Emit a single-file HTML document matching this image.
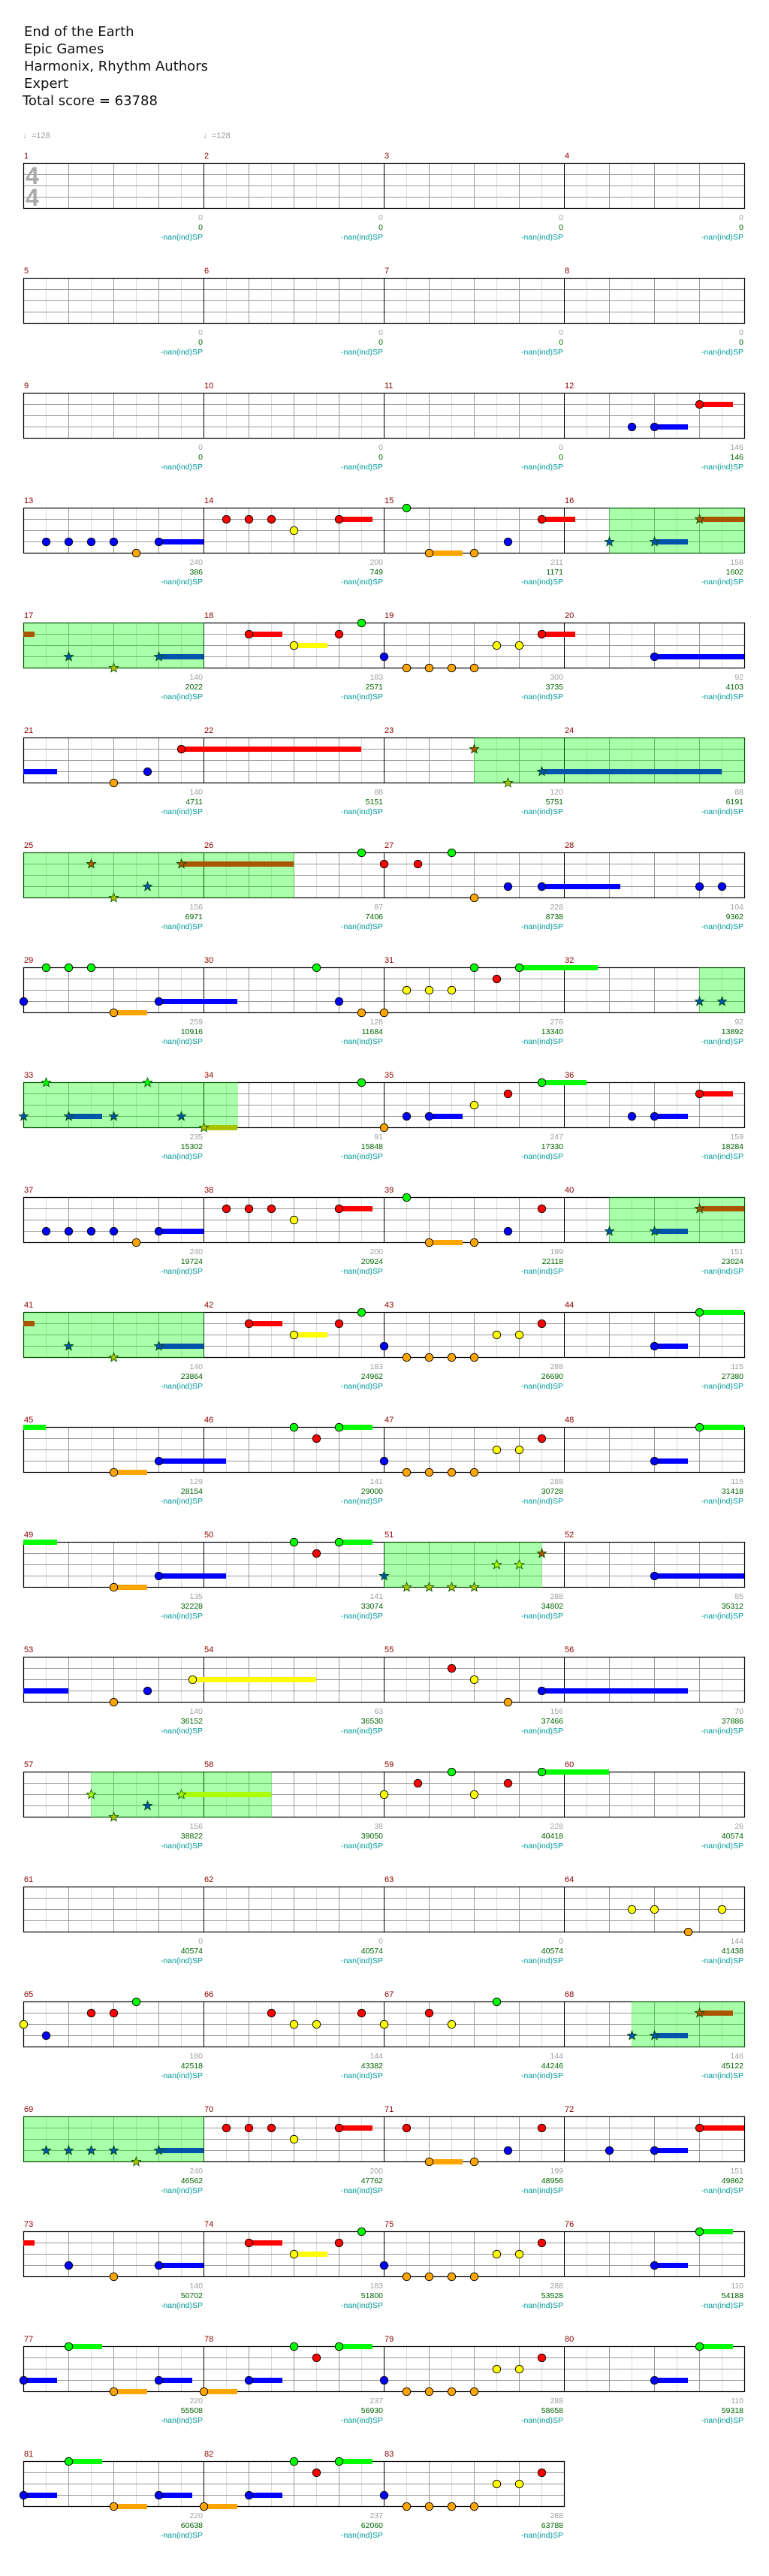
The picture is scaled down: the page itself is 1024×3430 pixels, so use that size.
<!DOCTYPE html>
<html><head><meta charset="utf-8"><title>End of the Earth</title>
<style>
html,body{margin:0;padding:0;background:#fff;}
#wrap{position:relative;width:1024px;height:3430px;overflow:hidden;}
svg text{font-family:"Liberation Sans","DejaVu Sans",sans-serif;}
</style></head>
<body>
<div id="wrap">
<svg id="chart" width="1024" height="3430" viewBox="0 0 1024 3430" xmlns="http://www.w3.org/2000/svg">
<g font-family="DejaVu Sans, sans-serif" font-size="18" fill="#111">
<text x="32" y="48" style="font-family:'DejaVu Sans',sans-serif">End of the Earth</text>
<text x="32" y="71" style="font-family:'DejaVu Sans',sans-serif">Epic Games</text>
<text x="32" y="94" style="font-family:'DejaVu Sans',sans-serif">Harmonix, Rhythm Authors</text>
<text x="32" y="117" style="font-family:'DejaVu Sans',sans-serif">Expert</text>
<text x="30" y="140" style="font-family:'DejaVu Sans',sans-serif">Total score = 63788</text>
</g>
<g font-size="11" fill="#999">
<text x="31" y="184">♩=128</text>
<text x="271" y="184">♩=128</text>
</g>
<g id="staves"></g>
</svg>
</div>
<script>
const measureCount = 83;
const laneColors = ["#00ff00","#ff0000","#ffff00","#0000ff","#ffa500"];
const spColors = ["#00ff00","#aa5500","#aaff00","#0055aa","#aac300"];
// [globalBeat, lane(0=G,1=R,2=Y,3=B,4=O), sustainBeats]
const notes = [
[45.5,3,0],[46,3,.75],[47,1,.75],
[48.5,3,0],[49,3,0],[49.5,3,0],[50,3,0],[50.5,4,0],[51,3,1],
[52.5,1,0],[53,1,0],[53.5,1,0],[54,2,0],[55,1,.75],
[56.5,0,0],[57,4,.75],[58,4,0],[58.75,3,0],[59.5,1,.75],
[61,3,0],[62,3,.75],[63,1,1.25],
[65,3,0],[66,4,0],[67,3,1],
[69,1,.75],[70,2,.75],[71,1,0],[71.5,0,0],
[72,3,0],[72.5,4,0],[73,4,0],[73.5,4,0],[74,4,0],[74.5,2,0],[75,2,0],[75.5,1,.75],
[78,3,2.75],
[82,4,0],[82.75,3,0],[83.5,1,4],
[90,1,0],[90.75,4,0],[91.5,3,4],
[97.5,1,0],[98,4,0],[98.75,3,0],[99.5,1,2.5],
[103.5,0,0],
[104,1,0],[104.75,1,0],[105.5,0,0],[106,4,0],[106.75,3,0],[107.5,3,1.75],
[111,3,0],[111.5,3,0],
[112,3,0],[112.5,0,0],[113,0,0],[113.5,0,0],[114,4,.75],[115,3,1.75],
[118.5,0,0],[119,3,0],[119.5,4,0],
[120,4,0],[120.5,2,0],[121,2,0],[121.5,2,0],[122,0,0],[122.5,1,0],[123,0,1.75],
[127,3,0],[127.5,3,0],
[128,3,0],[128.5,0,0],[129,3,.75],[130,3,0],[130.75,0,0],[131.5,3,0],
[132,4,.75],[135.5,0,0],
[136,4,0],[136.5,3,0],[137,3,.75],[138,2,0],[138.75,1,0],[139.5,0,1],
[141.5,3,0],[142,3,.75],[143,1,.75],
[144.5,3,0],[145,3,0],[145.5,3,0],[146,3,0],[146.5,4,0],[147,3,1],
[148.5,1,0],[149,1,0],[149.5,1,0],[150,2,0],[151,1,.75],
[152.5,0,0],[153,4,.75],[154,4,0],[154.75,3,0],[155.5,1,0],
[157,3,0],[158,3,.75],[159,1,1.25],
[161,3,0],[162,4,0],[163,3,1],
[165,1,.75],[166,2,.75],[167,1,0],[167.5,0,0],
[168,3,0],[168.5,4,0],[169,4,0],[169.5,4,0],[170,4,0],[170.5,2,0],[171,2,0],[171.5,1,0],
[174,3,.75],[175,0,1.5],
[178,4,.75],[179,3,1.5],
[182,0,0],[182.5,1,0],[183,0,.75],
[184,3,0],[184.5,4,0],[185,4,0],[185.5,4,0],[186,4,0],[186.5,2,0],[187,2,0],[187.5,1,0],
[190,3,.75],[191,0,1.75],
[194,4,.75],[195,3,1.5],
[198,0,0],[198.5,1,0],[199,0,.75],
[200,3,0],[200.5,4,0],[201,4,0],[201.5,4,0],[202,4,0],[202.5,2,0],[203,2,0],[203.5,1,0],
[206,3,3],
[210,4,0],[210.75,3,0],[211.75,2,2.75],
[217.5,1,0],[218,2,0],[218.75,4,0],[219.5,3,3.25],
[225.5,2,0],[226,4,0],[226.75,3,0],[227.5,2,2],
[232,2,0],[232.75,1,0],[233.5,0,0],[234,2,0],[234.75,1,0],[235.5,0,1.5],
[253.5,2,0],[254,2,0],[254.75,4,0],[255.5,2,0],
[256,2,0],[256.5,3,0],[257.5,1,0],[258,1,0],[258.5,0,0],
[261.5,1,0],[262,2,0],[262.5,2,0],[263.5,1,0],
[264,2,0],[265,1,0],[265.5,2,0],[266.5,0,0],
[269.5,3,0],[270,3,.75],[271,1,.75],
[272.5,3,0],[273,3,0],[273.5,3,0],[274,3,0],[274.5,4,0],[275,3,1],
[276.5,1,0],[277,1,0],[277.5,1,0],[278,2,0],[279,1,.75],
[280.5,1,0],[281,4,.75],[282,4,0],[282.75,3,0],[283.5,1,0],
[285,3,0],[286,3,.75],[287,1,1.25],
[289,3,0],[290,4,0],[291,3,1],
[293,1,.75],[294,2,.75],[295,1,0],[295.5,0,0],
[296,3,0],[296.5,4,0],[297,4,0],[297.5,4,0],[298,4,0],[298.5,2,0],[299,2,0],[299.5,1,0],
[302,3,.75],[303,0,.75],
[304,3,.75],[305,0,.75],[306,4,.75],[307,3,.75],
[308,4,.75],[309,3,.75],[310,0,0],[310.5,1,0],[311,0,.75],
[312,3,0],[312.5,4,0],[313,4,0],[313.5,4,0],[314,4,0],[314.5,2,0],[315,2,0],[315.5,1,0],
[318,3,.75],[319,0,.75],
[320,3,.75],[321,0,.75],[322,4,.75],[323,3,.75],
[324,4,.75],[325,3,.75],[326,0,0],[326.5,1,0],[327,0,.75],
[328,3,0],[328.5,4,0],[329,4,0],[329.5,4,0],[330,4,0],[330.5,2,0],[331,2,0],[331.5,1,0]
];
const spRanges = [[61,68],[90,102],[127,132.75],[157,164],[200,203.5],[225.5,229.5],[269.5,276]];
const measureScores = [0,0,0,0,0,0,0,0,0,0,0,146,240,200,211,158,140,183,300,92,140,88,120,88,156,87,228,104,259,128,276,92,235,91,247,159,240,200,199,151,140,183,288,115,129,141,288,115,135,141,288,85,140,63,156,70,156,38,228,26,0,0,0,144,180,144,144,146,240,200,199,151,140,183,288,110,220,237,288,110,220,237,288];
const cumulativeScores = [0,0,0,0,0,0,0,0,0,0,0,146,386,749,1171,1602,2022,2571,3735,4103,4711,5151,5751,6191,6971,7406,8738,9362,10916,11684,13340,13892,15302,15848,17330,18284,19724,20924,22118,23024,23864,24962,26690,27380,28154,29000,30728,31418,32228,33074,34802,35312,36152,36530,37466,37886,38822,39050,40418,40574,40574,40574,40574,41438,42518,43382,44246,45122,46562,47762,48956,49862,50702,51800,53528,54188,55508,56930,58658,59318,60638,62060,63788];
const spLabel = "-nan(ind)SP";

const NS = "http://www.w3.org/2000/svg";
const LEFT = 31, MW = 240, BEAT = 60, TOP0 = 217, ROWH = 153, LANE = 15, PER_ROW = 4;
const root = document.getElementById('staves');
function mk(tag, attrs, parent){
  const e = document.createElementNS(NS, tag);
  for (const k in attrs) e.setAttribute(k, attrs[k]);
  (parent||root).appendChild(e); return e;
}
function rowOf(beat){ return Math.floor(beat / (4*PER_ROW)); }
function xOf(beat){ const r = rowOf(beat); return LEFT + (beat - r*4*PER_ROW) * BEAT; }
function rowTop(r){ return TOP0 + r*ROWH; }
function yOf(beat, lane){ return rowTop(rowOf(beat)) + lane*LANE; }
function inSP(b){ return spRanges.some(s => b >= s[0]-1e-6 && b <= s[1]+1e-6); }

const rows = Math.ceil(measureCount / PER_ROW);
const gGrid = mk('g', {});


for (let r = 0; r < rows; r++){
  const top = rowTop(r);
  const nm = Math.min(PER_ROW, measureCount - r*PER_ROW);
  const w = nm * MW;
  // half-beat lines
  for (let k = 1; k < nm*8; k++){
    if (k % 8 === 0) continue;
    const x = LEFT + k*30 + 0.5;
    const ln = mk('line', {x1:x, y1:top, x2:x, y2:top+60, stroke: (k%2===0)?'#999':'#dcdcdc', 'stroke-width':1}, gGrid);
    
    
  }
  for (let l = 1; l < 4; l++){
    const y = top + l*LANE + 0.5;
    const ln = mk('line', {x1:LEFT, y1:y, x2:LEFT+w, y2:y, stroke:'#999', 'stroke-width':1}, gGrid);
    
    
  }
  for (let m = 1; m < nm; m++){
    const x = LEFT + m*MW + 0.5;
    const ln = mk('line', {x1:x, y1:top, x2:x, y2:top+60, stroke:'#000', 'stroke-width':1}, gGrid);
    
    
  }
  const border = mk('rect', {x:LEFT+0.5, y:top+0.5, width:w, height:60, fill:'none', stroke:'#000', 'stroke-width':1.2}, gGrid);
  
  
}
// time signature
const ts1 = mk('text', {x:34, y:245, 'font-size':32, 'font-weight':'bold', fill:'#aaa'}); ts1.textContent = '4';


const ts2 = mk('text', {x:34, y:274, 'font-size':32, 'font-weight':'bold', fill:'#aaa'}); ts2.textContent = '4';



// SP overlays (split by row)
function segments(b0, b1){
  const segs = []; let s = b0;
  while (s < b1 - 1e-6){
    const r = rowOf(s + 1e-6);
    const rowEnd = (r+1)*4*PER_ROW;
    const e = Math.min(b1, rowEnd);
    segs.push([s, e, r]); s = e;
  }
  return segs;
}
spRanges.forEach(sp => {
  segments(sp[0], sp[1]).forEach(seg => {
    const x0 = LEFT + (seg[0] - seg[2]*16)*BEAT, x1 = LEFT + (seg[1] - seg[2]*16)*BEAT;
    const rc = mk('rect', {x:x0, y:rowTop(seg[2]), width:x1-x0+1, height:61, fill:'rgb(0,255,0)', 'fill-opacity':0.333});
    
    
  });
});

// measure labels and scores
for (let m = 0; m < measureCount; m++){
  const r = Math.floor(m / PER_ROW), c = m % PER_ROW;
  const x0 = LEFT + c*MW, top = rowTop(r);
  const lb = mk('text', {x:x0+1, y:top-6, 'font-size':11, fill:'#8b0000'}); lb.textContent = String(m+1);
  
  
  const xe = x0 + MW - 1;
  const t1 = mk('text', {x:xe, y:top+76, 'font-size':10.5, fill:'#a0a0a0', 'text-anchor':'end'}); t1.textContent = String(measureScores[m]);
  
  
  const t2 = mk('text', {x:xe, y:top+89, 'font-size':10.5, fill:'#006400', 'text-anchor':'end'}); t2.textContent = String(cumulativeScores[m]);
  
  
  const t3 = mk('text', {x:xe, y:top+102, 'font-size':10.5, fill:'#009999', 'text-anchor':'end'}); t3.textContent = spLabel;
  
  
}

// notes
const gNotes = mk('g', {});


function starPath(cx, cy, R, r){
  let d = '';
  for (let i = 0; i < 10; i++){
    const a = -Math.PI/2 + i*Math.PI/5, rr = (i%2===0)?R:r;
    d += (i?'L':'M') + (cx + rr*Math.cos(a)).toFixed(2) + ' ' + (cy + rr*Math.sin(a)).toFixed(2);
  }
  return d + 'Z';
}
notes.forEach(n => {
  const [b, lane, len] = n;
  const star = inSP(b);
  if (len > 0){
    segments(b, b+len).forEach(seg => {
      const x0 = LEFT + (seg[0] - seg[2]*16)*BEAT, x1 = LEFT + (seg[1] - seg[2]*16)*BEAT;
      const y = rowTop(seg[2]) + lane*LANE;
      const rc = mk('rect', {x:x0, y:y-3.5+0.5, width:x1-x0, height:7, fill: star ? spColors[lane] : laneColors[lane]}, gNotes);
      
      
    });
  }
  const x = xOf(b) + 0.5, y = yOf(b, lane) + 0.5;
  if (star){
    const p = mk('path', {d: starPath(x, y, 6.5, 2.8), fill: spColors[lane], stroke:'#004d00', 'stroke-width':0.8}, gNotes);
    
    
  } else {
    const c = mk('circle', {cx:x, cy:y, r:5.2, fill: laneColors[lane], stroke:'#000', 'stroke-width':0.9}, gNotes);
    
    
  }
});
</script>
</body></html>
